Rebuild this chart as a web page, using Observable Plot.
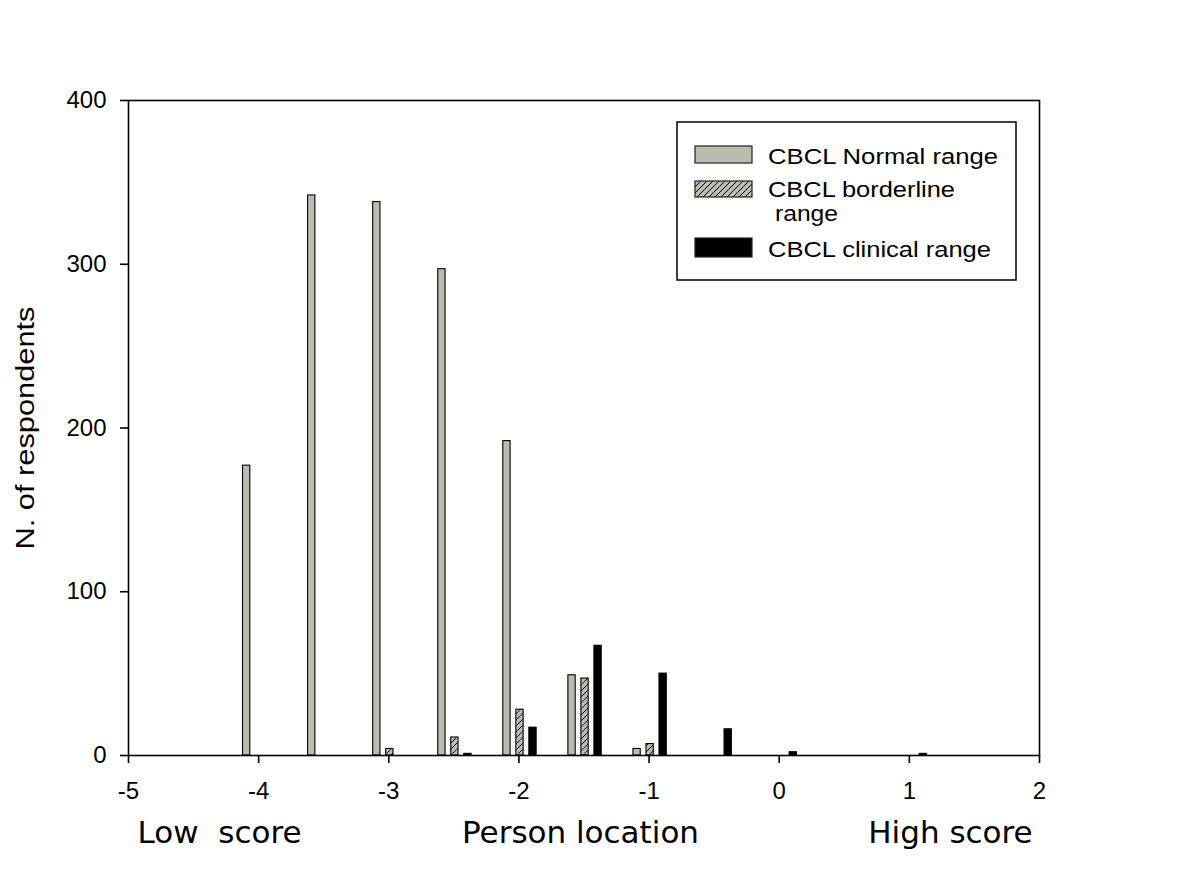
<!DOCTYPE html>
<html><head><meta charset="utf-8">
<script src="https://cdn.jsdelivr.net/npm/d3@7"></script>
<script src="https://cdn.jsdelivr.net/npm/@observablehq/plot@0.6"></script>
<style>
body{margin:0;background:#fff;}
#wrap{position:relative;width:1200px;height:870px;}
#wrap svg text{white-space:pre;}
#legend{position:absolute;left:0;top:0;pointer-events:none;}
</style></head><body>
<svg width="0" height="0" style="position:absolute">
<defs><pattern id="hatch" patternUnits="userSpaceOnUse" width="6" height="6">
<rect width="6" height="6" fill="#bbbbb0"/>
<path d="M-1,1 L1,-1 M0,6 L6,0 M5,7 L7,5" stroke="#000" stroke-width="1"/>
</pattern></defs></svg>
<div id="wrap"></div>
<script>
// ---- data ----
const groups     = [-4, -3.5, -3, -2.5, -2, -1.5, -1, -0.5, 0, 0.5, 1];
const normal     = [177, 342, 338, 297, 192, 49, 4, 0, 0, 0, 0];
const borderline = [0, 0, 4, 11, 28, 47, 7, 0, 0, 0, 0];
const clinical   = [0, 0, 0, 1, 17, 67, 50, 16, 2, 0, 1];
const seriesNames = ["CBCL Normal range", "CBCL borderline\n range", "CBCL clinical range"];
const xTicks = [-5, -4, -3, -2, -1, 0, 1, 2];
const yTicks = [0, 100, 200, 300, 400];
const bottomLabels = ["Low  score", "Person location", "High score"];
const bottomLabelX = [-4.30, -1.527, 1.316];
const yLabel = "N. of respondents";

// ---- build rows ----
const offsets = [-0.092, 0.008, 0.108];
const halfW = 0.028;
const fills = ["#bbbbb0", "url(#hatch)", "#000"];
const seriesValues = [normal, borderline, clinical];
const rows = [];
seriesValues.forEach((vals, s) => {
  groups.forEach((g, i) => {
    if (vals[i] > 0) rows.push({s, x1: g + offsets[s] - halfW, x2: g + offsets[s] + halfW, y: vals[i]});
  });
});
const labels = bottomLabels.map((t, i) => ({t, x: bottomLabelX[i]}));

const plot = Plot.plot({
  width: 1200, height: 870,
  marginLeft: 128, marginRight: 161, marginTop: 100, marginBottom: 115,
  style: {fontFamily: "'Liberation Sans', Arial, sans-serif", fontSize: "24px", background: "#fff", color: "#000"},
  x: {domain: [-5, 2]},
  y: {domain: [0, 400]},
  marks: [
    Plot.rectY(rows, {x1: "x1", x2: "x2", y1: 0, y2: "y", fill: d => fills[d.s], stroke: "#000", strokeWidth: 1.1}),
    Plot.frame({stroke: "#000", strokeWidth: 1.6}),
    Plot.axisX({ticks: xTicks, tickFormat: d => String(d), tickSize: 8, tickPadding: 18, fontSize: 24, label: null, strokeWidth: 1.6}),
    Plot.axisY({ticks: yTicks, tickFormat: d => String(d), tickSize: 8, tickPadding: 14, fontSize: 24, label: null, strokeWidth: 1.6}),
    Plot.text([yLabel], {frameAnchor: "left", dx: -103, rotate: -90, fontSize: 26, lineAnchor: "middle", fill: "#000"}),
    Plot.text(labels, {x: "x", text: "t", frameAnchor: "bottom", dy: 87, lineAnchor: "bottom", fontSize: 31, fontFamily: "'DejaVu Sans', sans-serif", fill: "#000"})
  ]
});
document.getElementById("wrap").appendChild(plot);
plot.querySelectorAll("text").forEach(t => {
  if (t.textContent === yLabel) {
    t.setAttribute("text-anchor", "start");
    t.setAttribute("x", -121.5);
    t.setAttribute("textLength", 243);
    t.setAttribute("lengthAdjust", "spacingAndGlyphs");
  }
});

// ---- legend overlay ----
const NS = "http://www.w3.org/2000/svg";
const lg = document.createElementNS(NS, "svg");
lg.setAttribute("id", "legend"); lg.setAttribute("width", 1200); lg.setAttribute("height", 870);
function el(tag, attrs, text) {
  const e = document.createElementNS(NS, tag);
  for (const k in attrs) e.setAttribute(k, attrs[k]);
  if (text != null) e.textContent = text;
  lg.appendChild(e); return e;
}
el("rect", {x: 677, y: 122, width: 339, height: 158, fill: "#fff", stroke: "#000", "stroke-width": 1.5});
const swY = [146, 181, 238], swH = [17, 16, 19];
const lineLens = [[230], [187, 63], [223]];
const lineY = [[164], [197, 221], [257]];
seriesNames.forEach((name, s) => {
  el("rect", {x: 695, y: swY[s], width: 57, height: swH[s], fill: fills[s], stroke: "#222", "stroke-width": 1.2});
  name.split("\n").forEach((ln, j) => {
    const indent = ln.startsWith(" ") ? 7 : 0;
    el("text", {x: 768 + indent, y: lineY[s][j], "font-size": 22.5, "font-family": "'Liberation Sans', Arial, sans-serif",
      textLength: lineLens[s][j], lengthAdjust: "spacingAndGlyphs", fill: "#000"}, ln.trim());
  });
});
document.getElementById("wrap").appendChild(lg);
</script>
</body></html>
